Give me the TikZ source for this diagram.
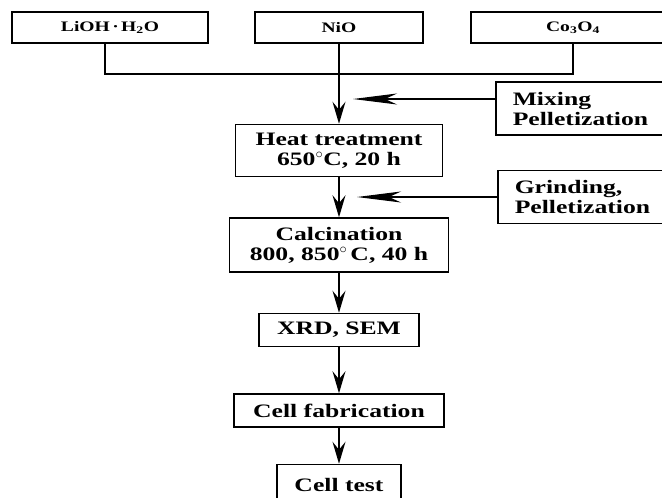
\documentclass[tikz,border=0pt]{standalone}
\usepackage{fontspec}
\setmainfont{Liberation Serif}
\newfontfamily\labfont[FakeStretch=1.35]{Liberation Serif}
\usetikzlibrary{arrows.meta, positioning}

\begin{document}
\begin{tikzpicture}[
    x=1pt, y=-1pt,
    node distance=40pt,
    every node/.style={rectangle, draw, line width=1.5pt, align=center, inner sep=0pt},
    srcbox/.style={minimum height=31pt, font=\labfont\bfseries\fontsize{14.5}{15}\selectfont},
    stepbox/.style={font=\labfont\bfseries\fontsize{19}{20}\selectfont},
    sidebox/.style={stepbox, align=left, text width=165pt, inner xsep=17pt, minimum height=53pt},
    link/.style={line width=1.3pt},
    flow/.style={link, -{Stealth[length=22pt, width=13pt, inset=8pt]}},
    side/.style={link, -{Stealth[length=44pt, width=11pt, inset=12pt]}}
]
\fill[white] (0,0) rectangle (662,498);
\useasboundingbox (0,0) rectangle (662,498);

% Nodes
\node (lioh) [srcbox, minimum width=196pt] at (110,27.5) {LiOH\,·\,H\textsubscript{2}O};
\node (nio) [srcbox, minimum width=168pt] at (339,27.5) {NiO};
\node (co) [srcbox, minimum width=204pt] at (573,27.5) {Co\textsubscript{3}O\textsubscript{4}};
\node (heat) [stepbox, below=80pt of nio, minimum width=207pt, minimum height=52pt] {Heat treatment\\650$^{\circ}$C, 20 h};
\node (calc) [stepbox, below=of heat, minimum width=219pt, minimum height=54pt] {Calcination\\800, 850$^{\circ}$\,C, 40 h};
\node (xrd) [stepbox, below=of calc, minimum width=160pt, minimum height=33pt] {XRD, SEM};
\node (fab) [stepbox, below=46pt of xrd, minimum width=210pt, minimum height=33pt] {Cell fabrication};
\node (test) [stepbox, below=36pt of fab, minimum width=124pt, minimum height=40pt] {Cell test};
\node (mix) [sidebox, anchor=west] at (495,108.5) {Mixing\\Pelletization};
\node (grind) [sidebox, anchor=west] at (497,197) {Grinding,\\Pelletization};

\coordinate (joinl) at (105,74);
\coordinate (joinr) at (573,74);
\coordinate (mixend) at (353,99);
\coordinate (grindend) at (357,197);

% Arrows
\draw [link] (lioh.south -| joinl) -- (joinl) -- (joinr) -- (co.south);
\draw [flow] (nio) -- (heat);
\draw [side] (mix.west |- mixend) -- (mixend);
\draw [flow] (heat) -- (calc);
\draw [side] (grind.west) -- (grindend);
\draw [flow] (calc) -- (xrd);
\draw [flow] (xrd) -- (fab);
\draw [flow] (fab) -- (test);

\end{tikzpicture}
\end{document}
